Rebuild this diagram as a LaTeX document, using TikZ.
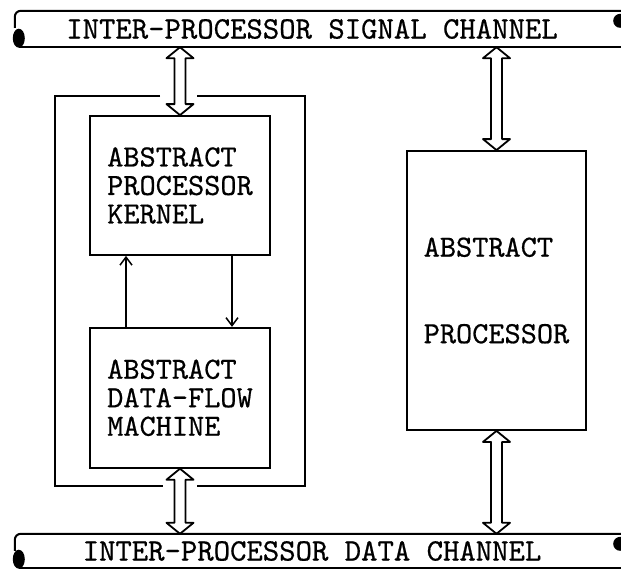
\documentclass[tikz,border=0pt]{standalone}
\usepackage{fontspec}
\newfontfamily\typefont{lmmono10-regular}[Extension=.otf, FakeBold=0.6]
\usepackage{tikz}
\usetikzlibrary{arrows.meta, positioning, calc}
\tikzset{
    block/.style={rectangle, draw, line width=1.8pt, align=left, minimum width=180pt, font=\typefont\fontsize{30.8}{28.5}\selectfont},
    band/.style={rectangle, minimum width=594pt, inner sep=0pt, font=\typefont\fontsize{31.2}{28.5}\selectfont},
    bus/.style={line width=1.8pt, fill=white, line join=round},
    frame/.style={line width=1.8pt},
    arrow/.style={line width=1.5pt, -{Straight Barb[length=8pt, width=12pt]}}
}
% hollow double-headed bus arrow, #1 above #2
\newcommand{\busarrow}[2]{%
    \draw[bus] let \p1=(#1), \p2=(#2) in
        (\x1,\y1) -- (\x1+13.5pt,\y1-11pt) -- (\x1+5.5pt,\y1-11pt) -- (\x1+5.5pt,\y2+11pt)
        -- (\x1+13.5pt,\y2+11pt) -- (\x1,\y2) -- (\x1-13.5pt,\y2+11pt) -- (\x1-5.5pt,\y2+11pt)
        -- (\x1-5.5pt,\y1-11pt) -- (\x1-13.5pt,\y1-11pt) -- cycle;}

\begin{document}
\begin{tikzpicture}[x=1pt, y=-1pt]
    \useasboundingbox (0,0) rectangle (621,570);

    \node (sig) [band, minimum height=36pt] at (312,29) {INTER-PROCESSOR SIGNAL CHANNEL};
    \node (dat) [band, minimum height=34pt] at (312,551) {INTER-PROCESSOR DATA CHANNEL};

    \node (kernel) [block, minimum height=139pt] at (180,185.5) {ABSTRACT\\PROCESSOR\\KERNEL};
    \node (dfm) [block, minimum height=140pt, below=71pt of kernel] {ABSTRACT\\DATA-FLOW\\MACHINE};
    \node (proc) [block, minimum width=179pt, minimum height=279pt] at (496.5,290.5) {ABSTRACT\\[58pt]PROCESSOR};

    % scroll ends of the two channels
    \foreach \b in {sig, dat} {
        \draw[line width=2pt] ([xshift=15pt]\b.north east) -- ([xshift=6pt]\b.north west)
            to[out=180, in=90] ([yshift=-6pt]\b.north west) -- ([yshift=-17pt]\b.north west);
        \draw[line width=2pt] ([xshift=4pt]\b.south west) -- ([xshift=15pt]\b.south east);
        \fill ([xshift=4pt, yshift=9pt]\b.south west) ellipse (6pt and 9.5pt);
        \fill ([xshift=11pt, yshift=-10pt]\b.north east) circle (7pt);
    }

    % frame round kernel and machine
    \draw[frame] (160,96) -| (55,486) -- (163,486);
    \draw[frame] (197,96) -| (305,486) -- (197,486);

    \draw[arrow] ([xshift=-54pt]dfm.north) -- ([xshift=-54pt]kernel.south);
    \draw[arrow] ([xshift=52pt]kernel.south) -- ([xshift=52pt]dfm.north);

    \busarrow{sig.south -| kernel.north}{kernel.north}
    \busarrow{sig.south -| proc.north}{proc.north}
    \busarrow{dfm.south}{dat.north -| dfm.south}
    \busarrow{proc.south}{dat.north -| proc.south}
\end{tikzpicture}
\end{document}
